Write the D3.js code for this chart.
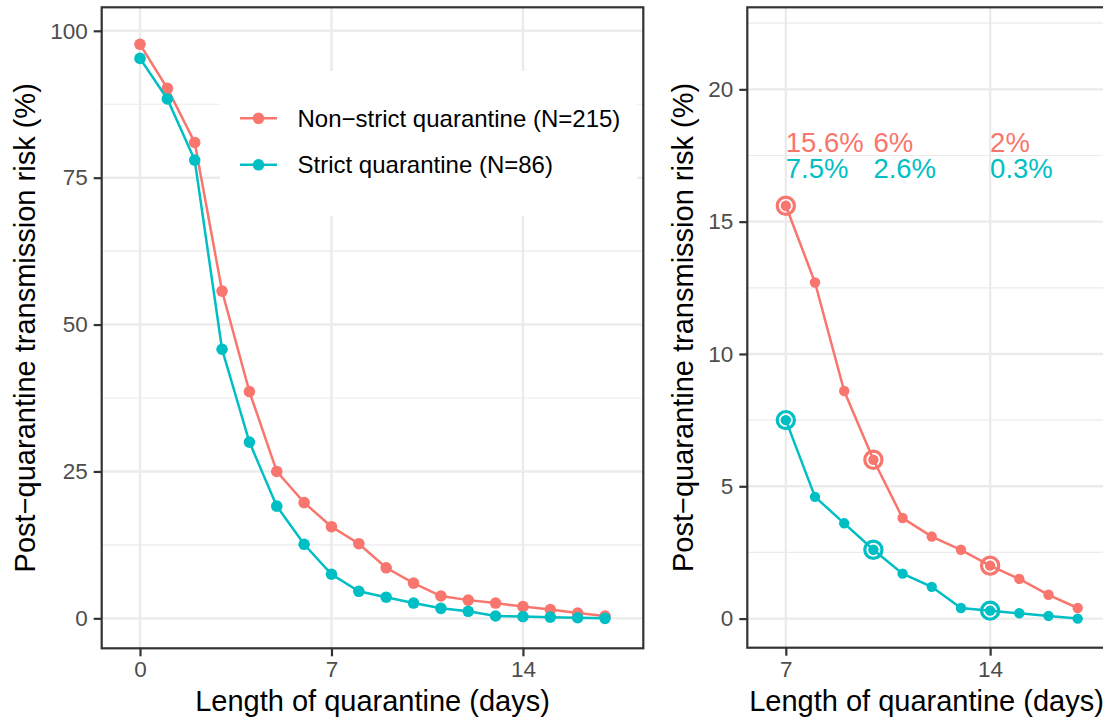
<!DOCTYPE html>
<html>
<head>
<meta charset="utf-8">
<script src="https://cdn.jsdelivr.net/npm/d3@7"></script>
<style>
  body { margin: 0; background: #fff; }
  svg text { font-family: "Liberation Sans", Arial, sans-serif; }
</style>
</head>
<body>
<svg id="chart" width="1103" height="723"></svg>
<script>
// data
const days = [0, 1, 2, 3, 4, 5, 6, 7, 8, 9, 10, 11, 12, 13, 14, 15, 16, 17];
const nonStrict = [97.7, 90.2, 81.0, 55.7, 38.6, 25.0, 19.7, 15.6, 12.7, 8.6, 6.0, 3.8, 3.1, 2.6, 2.0, 1.5, 0.9, 0.4];
const strict = [95.3, 88.4, 78.0, 45.8, 30.0, 19.1, 12.6, 7.5, 4.6, 3.6, 2.6, 1.7, 1.2, 0.4, 0.3, 0.2, 0.1, 0.0];
const seriesNames = ['Non\u2212strict quarantine (N=215)', 'Strict quarantine (N=86)'];
const colors = ['#F8766D', '#00BFC4'];
const highlightDays = [7, 10, 14];
const leftXTicks = [0, 7, 14];
const leftYTicks = [0, 25, 50, 75, 100];
const leftYMinor = [12.5, 37.5, 62.5, 87.5];
const rightXTicks = [7, 14];
const rightYTicks = [0, 5, 10, 15, 20];
const rightYMinor = [2.5, 7.5, 12.5, 17.5, 22.5];

const svg = d3.select('#chart');
const series = [nonStrict, strict];
const yTitle = 'Post\u2212quarantine transmission risk (%)';
const xTitle = 'Length of quarantine (days)';

function panel(opts) {
  const x = d3.scaleLinear().domain(opts.xDomain).range([opts.left, opts.right]);
  const y = d3.scaleLinear().domain(opts.yDomain).range([opts.bottom, opts.top]);
  const g = svg.append('g');

  g.append('clipPath').attr('id', opts.id)
    .append('rect')
    .attr('x', opts.left).attr('y', opts.top)
    .attr('width', opts.right - opts.left).attr('height', opts.bottom - opts.top);

  // grid
  const grid = g.append('g');
  grid.selectAll('.ymin').data(opts.yMinor).enter().append('line')
    .attr('x1', opts.left).attr('x2', opts.right)
    .attr('y1', d => y(d)).attr('y2', d => y(d))
    .attr('stroke', '#EBEBEB').attr('stroke-width', 1.2);
  grid.selectAll('.ymaj').data(opts.yTicks).enter().append('line')
    .attr('x1', opts.left).attr('x2', opts.right)
    .attr('y1', d => y(d)).attr('y2', d => y(d))
    .attr('stroke', '#EBEBEB').attr('stroke-width', 2.4);
  grid.selectAll('.xmaj').data(opts.xTicks).enter().append('line')
    .attr('x1', d => x(d)).attr('x2', d => x(d))
    .attr('y1', opts.top).attr('y2', opts.bottom)
    .attr('stroke', '#EBEBEB').attr('stroke-width', 2.4);

  if (opts.legend) opts.legend(g);

  const plot = g.append('g').attr('clip-path', 'url(#' + opts.id + ')');
  const line = d3.line().x(d => x(d[0])).y(d => y(d[1]));

  series.forEach((vals, i) => {
    const pts = days.map((d, j) => [d, vals[j]]).filter(p => p[0] >= opts.minDay);
    plot.append('path')
      .datum(pts)
      .attr('d', line)
      .attr('fill', 'none')
      .attr('stroke', colors[i])
      .attr('stroke-width', 2.5);
    plot.selectAll('.pt' + i).data(pts).enter().append('circle')
      .attr('cx', d => x(d[0]))
      .attr('cy', d => y(d[1]))
      .attr('r', opts.r)
      .attr('fill', colors[i]);
    if (opts.rings) {
      plot.selectAll('.ring' + i).data(pts.filter(p => highlightDays.includes(p[0]))).enter().append('circle')
        .attr('cx', d => x(d[0]))
        .attr('cy', d => y(d[1]))
        .attr('r', 8.6)
        .attr('fill', 'none')
        .attr('stroke', colors[i])
        .attr('stroke-width', 3.2);
    }
  });

  if (opts.rings) {
    // labels above the curves
    const levels = [18, 17];
    series.forEach((vals, i) => {
      g.selectAll('.lab' + i).data(highlightDays).enter().append('text')
        .attr('x', d => x(d))
        .attr('y', y(levels[i]))
        .attr('dy', '0.35em')
        .attr('font-size', '27.5px')
        .attr('fill', colors[i])
        .text(d => (+vals[days.indexOf(d)].toFixed(1)) + '%');
    });
  }

  // border
  g.append('rect')
    .attr('x', opts.left).attr('y', opts.top)
    .attr('width', opts.right - opts.left).attr('height', opts.bottom - opts.top)
    .attr('fill', 'none').attr('stroke', '#333333').attr('stroke-width', 2.2);

  // axes
  const xAxis = g.append('g')
    .attr('transform', 'translate(0,' + opts.bottom + ')')
    .call(d3.axisBottom(x).tickValues(opts.xTicks).tickSize(8).tickPadding(5).tickFormat(d3.format('d')));
  const yAxis = g.append('g')
    .attr('transform', 'translate(' + opts.left + ',0)')
    .call(d3.axisLeft(y).tickValues(opts.yTicks).tickSize(8).tickPadding(6).tickFormat(d3.format('d')));
  [xAxis, yAxis].forEach(a => {
    a.select('.domain').remove();
    a.selectAll('line').attr('stroke', '#333333').attr('stroke-width', 2.2);
    a.selectAll('text')
      .attr('fill', '#4D4D4D')
      .style('font-size', '22.5px')
      .style('font-family', '"Liberation Sans", Arial, sans-serif');
  });

  g.append('text')
    .attr('x', (opts.left + opts.right) / 2)
    .attr('y', 711)
    .attr('text-anchor', 'middle')
    .attr('font-size', '29px')
    .attr('fill', '#000')
    .text(xTitle);
  g.append('text')
    .attr('transform', 'translate(' + opts.yTitleX + ',' + (opts.top + opts.bottom) / 2 + ') rotate(-90)')
    .attr('text-anchor', 'middle')
    .attr('font-size', '29px')
    .attr('fill', '#000')
    .text(yTitle);
}

function legend(g) {
  g.append('rect')
    .attr('x', 220).attr('y', 71)
    .attr('width', 417).attr('height', 145)
    .attr('fill', '#fff');
  const item = g.selectAll('.legend').data(seriesNames).enter().append('g')
    .attr('transform', (d, i) => 'translate(240,' + (118.3 + i * 46.5) + ')');
  item.append('line')
    .attr('x1', 0).attr('x2', 37)
    .attr('stroke', (d, i) => colors[i]).attr('stroke-width', 2.5);
  item.append('circle')
    .attr('cx', 18.5).attr('r', 5.8)
    .attr('fill', (d, i) => colors[i]);
  item.append('text')
    .attr('x', 57.5).attr('dy', '0.35em')
    .attr('font-size', '24px')
    .attr('fill', '#000')
    .text(d => d);
}

panel({
  id: 'clipLeft',
  left: 101.7, right: 643.3, top: 7.3, bottom: 648.3,
  xDomain: [-1.4, 18.4], yDomain: [-5.1, 104.0],
  xTicks: leftXTicks, yTicks: leftYTicks, yMinor: leftYMinor,
  minDay: 0, r: 5.8, rings: false, legend: legend, yTitleX: 35
});

panel({
  id: 'clipRight',
  left: 747.3, right: 1105.7, top: 7.3, bottom: 647.7,
  xDomain: [5.68, 17.96], yDomain: [-1.1, 23.1],
  xTicks: rightXTicks, yTicks: rightYTicks, yMinor: rightYMinor,
  minDay: 7, r: 5.2, rings: true, legend: null, yTitleX: 693.3
});
</script>
</body>
</html>
